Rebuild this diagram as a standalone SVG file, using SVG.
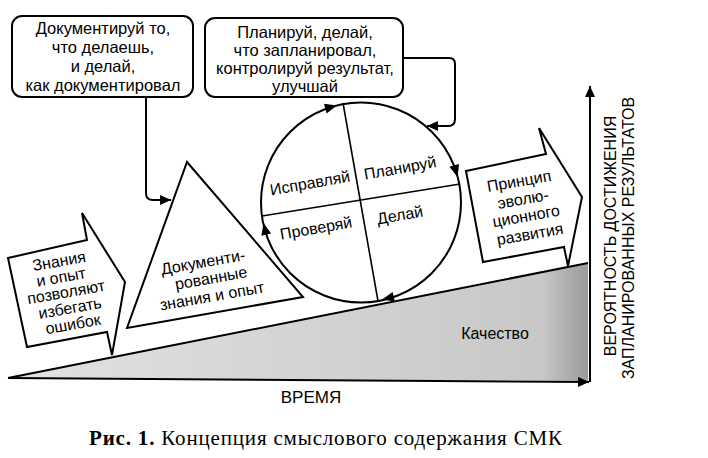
<svg xmlns="http://www.w3.org/2000/svg" width="708" height="458" viewBox="0 0 708 458">
<style>
.t{font-family:"Liberation Sans",Arial,sans-serif;font-size:16px;fill:#000;text-anchor:middle}
.b{font-size:16.5px}
.ln{fill:none;stroke:#000;stroke-width:2}
.thin{fill:none;stroke:#000;stroke-width:1.6}
.shape{fill:#fff;stroke:#000;stroke-width:2;stroke-linejoin:miter}
.cap{font-family:"Liberation Serif","Times New Roman",serif;font-size:21px;fill:#000}
</style>
<defs>
<marker id="arr" markerUnits="userSpaceOnUse" markerWidth="12" markerHeight="10" refX="11" refY="5" orient="auto">
<path d="M0,0 L11,5 L0,10 Z" fill="#000"/>
</marker>
<path id="ah" d="M2,0 L-10,-5 L-10,5 Z" fill="#000"/>
<linearGradient id="g" gradientUnits="userSpaceOnUse" x1="8" y1="0" x2="588" y2="0">
<stop offset="0" stop-color="#e2e2e2"/>
<stop offset="0.92" stop-color="#c8c8c8"/>
<stop offset="1" stop-color="#9a9a9a"/>
</linearGradient>
</defs>

<g id="ground">
<polygon points="8,378 588,263 588,381" fill="url(#g)"/>
<line x1="8" y1="378" x2="588" y2="263" class="ln"/>
</g>

<g id="connectors">
<path d="M8,378 L589,382" class="ln" marker-end="url(#arr)"/>
<path d="M590,382 V86" class="ln" marker-end="url(#arr)"/>
<path d="M146,97 V193 Q146,200 153,200 H171" class="ln" marker-end="url(#arr)"/>
<path d="M403,58 H449 Q455,58 455,64 V119 Q455,126 448,126 H427" class="ln" marker-end="url(#arr)"/>
</g>

<g id="box1">
<rect x="12" y="16" width="181" height="81" rx="10" class="shape"/>
<text class="t b" x="103" y="34">Документируй то,</text>
<text class="t b" x="103" y="53">что делаешь,</text>
<text class="t b" x="103" y="72">и делай,</text>
<text class="t b" x="103" y="91">как документировал</text>
</g>

<g id="box2">
<rect x="205" y="18" width="198" height="79" rx="10" class="shape"/>
<text class="t b" x="305" y="38">Планируй, делай,</text>
<text class="t b" x="305" y="56">что запланировал,</text>
<text class="t b" x="305" y="74">контролируй результат,</text>
<text class="t b" x="305" y="92">улучшай</text>
</g>

<g id="arrow1">
<polygon points="8,258 87,240 82,213 125,282 112,355 107,332 27,347" class="shape"/>
<text class="t" transform="translate(59,261) rotate(-10)" y="5.5">Знания</text>
<text class="t" transform="translate(61,277) rotate(-10)" y="5.5">и опыт</text>
<text class="t" transform="translate(66,292) rotate(-10)" y="5.5">позволяют</text>
<text class="t" transform="translate(70,308) rotate(-10)" y="5.5">избегать</text>
<text class="t" transform="translate(73,324) rotate(-10)" y="5.5">ошибок</text>
</g>

<g id="triangle">
<polygon points="187,162 303,297 127,328" class="shape"/>
<text class="t" transform="translate(203,262) rotate(-10)" y="5.5">Документи-</text>
<text class="t" transform="translate(211,278) rotate(-10)" y="5.5">рованные</text>
<text class="t" transform="translate(212,296) rotate(-10)" y="5.5">знания и опыт</text>
</g>

<g id="cycle">
<circle cx="361" cy="202.5" r="100" class="shape"/>
<line x1="343" y1="103" x2="378" y2="301" class="thin"/>
<line x1="262" y1="216" x2="460" y2="184" class="thin"/>
<use href="#ah" transform="translate(335,106) rotate(-15)"/>
<use href="#ah" transform="translate(457,175) rotate(74)"/>
<use href="#ah" transform="translate(384,299) rotate(167)"/>
<use href="#ah" transform="translate(264,225) rotate(-103)"/>
<text class="t" transform="translate(310,183) rotate(-10)" y="5.5">Исправляй</text>
<text class="t" transform="translate(400,168) rotate(-10)" y="5.5">Планируй</text>
<text class="t" transform="translate(316,228) rotate(-10)" y="5.5">Проверяй</text>
<text class="t" transform="translate(400,215) rotate(-10)" y="5.5">Делай</text>
</g>

<g id="arrow2">
<polygon points="466,171 546,154 539,128 582,197 568,266 564,247 483,262" class="shape"/>
<text class="t" transform="translate(519,181) rotate(-10)" y="5.5">Принцип</text>
<text class="t" transform="translate(523,199) rotate(-10)" y="5.5">эволю-</text>
<text class="t" transform="translate(526,216) rotate(-10)" y="5.5">ционного</text>
<text class="t" transform="translate(530,234) rotate(-10)" y="5.5">развития</text>
</g>

<g id="labels">
<text class="t" x="495" y="339">Качество</text>
<text class="t" x="311" y="403" style="font-size:17px">ВРЕМЯ</text>
<text class="t" transform="translate(616,236) rotate(-90)">ВЕРОЯТНОСТЬ ДОСТИЖЕНИЯ</text>
<text class="t" transform="translate(634,238) rotate(-90)">ЗАПЛАНИРОВАННЫХ РЕЗУЛЬТАТОВ</text>
<text class="cap" x="89" y="445" textLength="473" lengthAdjust="spacing"><tspan font-weight="bold">Рис. 1.</tspan> Концепция смыслового содержания СМК</text>
</g>
</svg>
